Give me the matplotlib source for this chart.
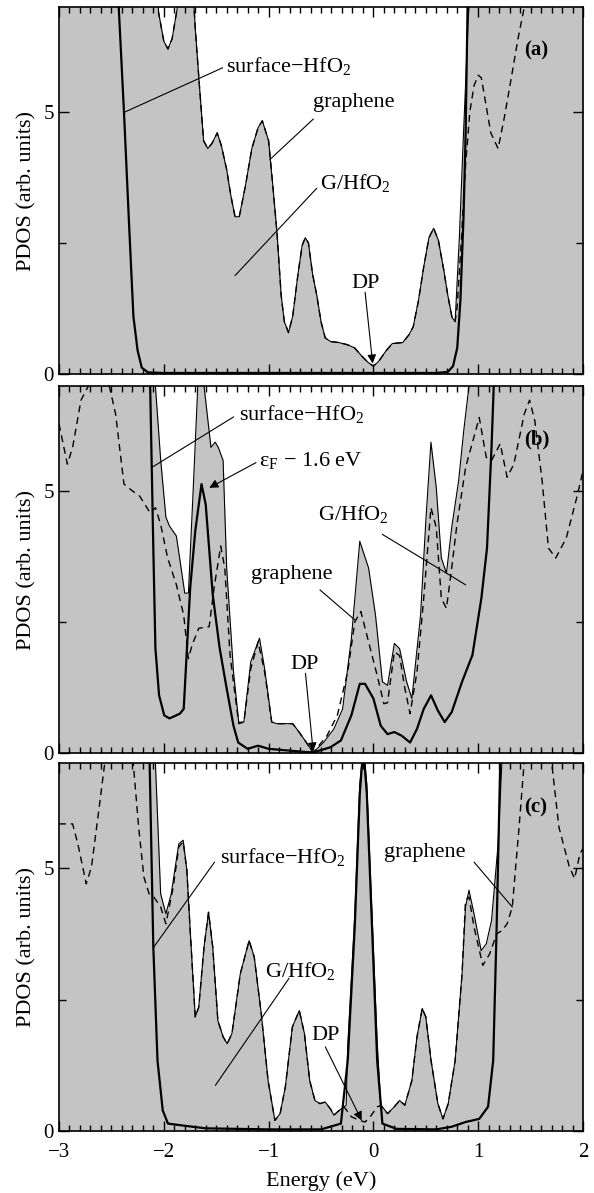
import numpy as np
import matplotlib.pyplot as plt
from matplotlib.ticker import MultipleLocator, FixedLocator

plt.rcParams['font.family'] = ['Liberation Serif', 'DejaVu Serif']
plt.rcParams['mathtext.fontset'] = 'custom'
plt.rcParams['mathtext.rm'] = 'Liberation Serif'
plt.rcParams['mathtext.it'] = 'Liberation Serif:italic'

# ---- panel (a) ----
a_total_e = [-3.0, -2.08, -2.05, -2.0, -1.96, -1.92, -1.87, -1.84, -1.74, -1.70, -1.66, -1.62, -1.58, -1.54,
             -1.49, -1.45, -1.40, -1.36, -1.32, -1.28, -1.22, -1.16, -1.10, -1.06, -1.00, -0.96, -0.92, -0.88,
             -0.85, -0.81, -0.77, -0.72, -0.68, -0.65, -0.62, -0.58, -0.54, -0.50, -0.46, -0.41, -0.33, -0.25,
             -0.18, -0.11, -0.05, 0.0, 0.05, 0.12, 0.18, 0.28, 0.34, 0.38, 0.43, 0.48, 0.53, 0.575, 0.62, 0.67,
             0.71, 0.75, 0.78, 0.82, 0.86, 0.90, 0.93, 2.0]
a_total = [8, 8, 6.9, 6.35, 6.2, 6.4, 7.0, 8, 8, 6.6, 5.5, 4.45, 4.3, 4.4,
           4.6, 4.35, 3.9, 3.4, 3.0, 3.0, 3.6, 4.3, 4.7, 4.83, 4.45, 3.6, 2.7, 1.5,
           1.0, 0.79, 1.1, 1.9, 2.45, 2.6, 2.5, 1.9, 1.5, 1.0, 0.69, 0.62, 0.6, 0.56,
           0.5, 0.34, 0.22, 0.15, 0.24, 0.44, 0.58, 0.6, 0.75, 0.9, 1.4, 2.04, 2.6, 2.78, 2.55, 2.0,
           1.5, 1.08, 1.0, 2.6, 4.6, 6.5, 8, 8]
a_surf_e = [-3.0, -2.44, -2.43, -2.38, -2.33, -2.29, -2.25, -2.21, -2.15, -2.0, 0.6, 0.71, 0.76, 0.80,
            0.83, 0.86, 0.88, 0.90, 0.91, 2.0]
a_surf = [8, 8, 7.0, 5.0, 2.8, 1.1, 0.45, 0.12, 0.03, 0.02, 0.02, 0.04, 0.15, 0.5,
          1.4, 3.0, 4.6, 7.2, 8, 8]
a_gr_e = [-3.0, -2.08, -2.05, -2.0, -1.96, -1.92, -1.87, -1.84, -1.74, -1.70, -1.66, -1.62, -1.58, -1.54,
          -1.49, -1.45, -1.40, -1.36, -1.32, -1.28, -1.22, -1.16, -1.10, -1.06, -1.00, -0.96, -0.92, -0.88,
          -0.85, -0.81, -0.77, -0.72, -0.68, -0.65, -0.62, -0.58, -0.54, -0.50, -0.46, -0.41, -0.33, -0.25,
          -0.18, -0.11, -0.05, 0.0, 0.05, 0.12, 0.18, 0.28, 0.34, 0.38, 0.43, 0.48, 0.53, 0.575, 0.62, 0.67,
          0.71, 0.75, 0.78, 0.80, 0.84, 0.88, 0.92, 0.96, 1.0, 1.03, 1.06, 1.12, 1.19, 1.25, 1.32, 1.38,
          1.44, 1.48, 2.0]
a_gr = [8, 8, 6.9, 6.35, 6.2, 6.4, 7.0, 8, 8, 6.6, 5.5, 4.45, 4.3, 4.4,
        4.6, 4.35, 3.9, 3.4, 3.0, 3.0, 3.6, 4.3, 4.7, 4.83, 4.45, 3.6, 2.7, 1.5,
        1.0, 0.79, 1.1, 1.9, 2.45, 2.6, 2.5, 1.9, 1.5, 1.0, 0.69, 0.62, 0.6, 0.56,
        0.5, 0.34, 0.22, 0.15, 0.24, 0.44, 0.58, 0.6, 0.75, 0.9, 1.4, 2.04, 2.6, 2.78, 2.55, 2.0,
        1.5, 1.08, 1.0, 1.3, 2.6, 4.0, 5.0, 5.5, 5.7, 5.65, 5.3, 4.6, 4.3, 4.9, 5.7, 6.4,
        7.0, 8, 8]

# ---- panel (b) ----
b_total_e = [-3.0, -2.09, -2.08, -2.03, -1.98, -1.946, -1.88, -1.84, -1.80, -1.765, -1.72, -1.68, -1.66,
             -1.63, -1.616, -1.55, -1.51, -1.48, -1.434, -1.40, -1.335, -1.285, -1.236, -1.17, -1.087,
             -1.038, -0.97, -0.92, -0.77, -0.72, -0.674, -0.575, -0.476, -0.377, -0.294, -0.21, -0.13,
             -0.046, 0.02, 0.086, 0.135, 0.20, 0.25, 0.317, 0.367, 0.45, 0.50, 0.549, 0.60, 0.648, 0.697,
             0.747, 0.813, 0.862, 0.912, 0.94, 2.0]
b_total = [8, 8, 7.0, 5.6, 4.5, 4.33, 4.14, 3.6, 3.05, 3.05, 5.0, 6.8, 8,
           8, 7.0, 5.83, 5.93, 5.83, 5.58, 3.53, 1.55, 0.59, 0.59, 1.74, 2.19,
           1.61, 0.59, 0.56, 0.56, 0.43, 0.30, 0.01, 0.2, 0.46, 0.84, 2.19, 4.04,
           3.53, 2.63, 1.36, 1.29, 2.09, 1.99, 1.36, 1.04, 2.63, 4.42, 5.93, 5.06, 3.72, 3.43,
           4.3, 5.19, 6.15, 7.0, 8, 8]
b_surf_e = [-3.0, -2.14, -2.13, -2.10, -2.08, -2.045, -1.996, -1.946, -1.847, -1.81, -1.748, -1.70, -1.64,
            -1.60, -1.533, -1.467, -1.40, -1.335, -1.29, -1.20, -1.10, -1.00, -0.77, -0.575, -0.41, -0.31,
            -0.21, -0.13, -0.08, 0.0, 0.07, 0.135, 0.20, 0.27, 0.35, 0.416, 0.48, 0.55, 0.615, 0.68, 0.747,
            0.846, 0.945, 1.03, 1.084, 1.127, 1.15, 1.16, 2.0]
b_surf = [8, 8, 7.0, 3.91, 2.0, 1.1, 0.72, 0.66, 0.75, 0.84, 3.15, 4.23, 5.13,
          4.74, 3.02, 2.0, 1.23, 0.52, 0.2, 0.08, 0.14, 0.08, 0.04, 0.01, 0.11, 0.24,
          0.72, 1.32, 1.32, 1.04, 0.52, 0.36, 0.40, 0.33, 0.20, 0.46, 0.84, 1.10, 0.81, 0.59, 0.78,
          1.36, 1.87, 2.95, 3.91, 5.83, 7.1, 8, 8]
b_gr_e = [-3.0, -2.92, -2.87, -2.79, -2.72, -2.62, -2.52, -2.46, -2.38, -2.30, -2.23, -2.13, -2.08, -2.03,
          -1.963, -1.88, -1.81, -1.765, -1.73, -1.666, -1.567, -1.52, -1.457, -1.418, -1.368, -1.285,
          -1.236, -1.17, -1.10, -1.038, -0.97, -0.92, -0.77, -0.72, -0.674, -0.575, -0.443, -0.344, -0.245,
          -0.178, -0.12, -0.046, 0.036, 0.10, 0.135, 0.20, 0.25, 0.30, 0.35, 0.416, 0.48, 0.549, 0.60,
          0.648, 0.697, 0.747, 0.797, 0.88, 1.01, 1.077, 1.127, 1.21, 1.276, 1.34, 1.44, 1.49, 1.54, 1.61,
          1.67, 1.74, 1.84, 1.94, 2.0]
b_gr = [6.28, 5.51, 5.83, 6.73, 7.0, 7.6, 7.0, 6.47, 5.13, 5.0, 4.9, 4.58, 4.68, 4.36,
        3.72, 3.21, 2.63, 1.8, 2.06, 2.38, 2.41, 3.15, 3.95, 3.53, 1.87, 0.56,
        0.59, 1.61, 2.12, 1.55, 0.59, 0.56, 0.56, 0.43, 0.30, 0.01, 0.33, 0.72, 1.55,
        2.5, 2.7, 2.12, 1.48, 0.94, 0.96, 1.93, 1.86, 1.23, 0.75, 1.55, 2.95, 4.68, 4.3,
        2.95, 2.76, 3.53, 4.36, 5.45, 6.4, 5.64, 5.58, 5.9, 5.26, 5.51, 6.47, 6.73, 6.34, 5.19,
        3.91, 3.72, 4.1, 4.87, 5.38]

# ---- panel (c) ----
c_total_e = [-3.0, -2.09, -2.08, -2.03, -1.98, -1.93, -1.857, -1.815, -1.78, -1.75, -1.70, -1.666, -1.616,
             -1.573, -1.533, -1.484, -1.434, -1.395, -1.35, -1.27, -1.186, -1.137, -1.07, -1.005, -0.94,
             -0.89, -0.84, -0.773, -0.707, -0.658, -0.608, -0.558, -0.51, -0.46, -0.41, -0.377, -0.327,
             -0.26, -0.245, -0.178, -0.13, -0.096, -0.063, -0.013, 0.036, 0.07, 0.135, 0.2, 0.25, 0.3,
             0.367, 0.416, 0.466, 0.5, 0.55, 0.615, 0.664, 0.714, 0.78, 0.846, 0.879, 0.912, 0.96, 1.028,
             1.077, 1.127, 1.19, 1.226, 1.24, 2.0]
c_total = [8, 8, 7.0, 4.51, 4.13, 4.5, 5.46, 5.53, 4.96, 3.88, 2.17, 2.36, 3.5,
           4.16, 3.5, 2.1, 1.79, 1.66, 1.85, 2.99, 3.62, 3.31, 2.23, 0.96, 0.2,
           0.33, 0.84, 1.98, 2.29, 1.85, 0.96, 0.58, 0.52, 0.55, 0.42, 0.3, 0.39,
           0.49, 1.6, 4.1, 6.6, 7.3, 6.6, 4.1, 1.7, 0.5, 0.33, 0.46, 0.58, 0.49,
           0.96, 1.79, 2.33, 2.17, 1.34, 0.52, 0.23, 0.52, 1.34, 2.99, 4.26, 4.58, 4.13, 3.43,
           3.56, 4.0, 5.46, 7.0, 8, 8]
c_surf_e = [-3.0, -2.14, -2.135, -2.10, -2.06, -2.01, -1.96, -1.765, -1.6, -1.0, -0.5, -0.31, -0.245,
            -0.178, -0.13, -0.096, -0.063, -0.013, 0.036, 0.086, 0.22, 0.6, 0.747, 0.879, 1.01, 1.094,
            1.143, 1.176, 1.21, 1.22, 2.0]
c_surf = [8, 8, 7.0, 3.5, 1.34, 0.39, 0.14, 0.09, 0.05, 0.03, 0.03, 0.14, 1.34,
          3.88, 6.41, 7.3, 6.41, 3.88, 1.34, 0.14, 0.04, 0.03, 0.08, 0.17, 0.23, 0.46,
          1.34, 3.88, 7.0, 8, 8]
c_gr_e = [-3.0, -2.87, -2.82, -2.74, -2.69, -2.62, -2.56, -2.45, -2.30, -2.24, -2.19, -2.14, -2.095, -2.03,
          -1.98, -1.91, -1.857, -1.815, -1.78, -1.75, -1.70, -1.666, -1.616, -1.573, -1.533, -1.484,
          -1.434, -1.395, -1.35, -1.27, -1.186, -1.137, -1.07, -1.005, -0.94, -0.89, -0.84, -0.773, -0.707,
          -0.658, -0.608, -0.558, -0.51, -0.46, -0.41, -0.377, -0.327, -0.28, -0.21, -0.13, -0.08, -0.03,
          0.036, 0.07, 0.135, 0.2, 0.25, 0.3, 0.367, 0.416, 0.466, 0.5, 0.55, 0.615, 0.664, 0.714, 0.78,
          0.846, 0.879, 0.912, 0.96, 1.044, 1.11, 1.176, 1.226, 1.276, 1.325, 1.39, 1.44, 1.55, 1.69,
          1.77, 1.87, 1.92, 1.97, 2.0]
c_gr = [5.84, 5.84, 5.46, 4.7, 5.02, 6.1, 7.05, 7.8, 7.2, 5.78, 4.83, 4.51, 4.45, 4.26,
        3.94, 4.64, 5.4, 5.5, 4.96, 3.88, 2.17, 2.36, 3.5, 4.16, 3.5, 2.1,
        1.79, 1.66, 1.85, 2.99, 3.62, 3.31, 2.23, 0.96, 0.2, 0.33, 0.84, 1.98, 2.29,
        1.85, 0.96, 0.58, 0.52, 0.55, 0.42, 0.3, 0.39, 0.46, 0.27, 0.2, 0.17, 0.27,
        0.46, 0.48, 0.33, 0.46, 0.58, 0.49, 0.96, 1.79, 2.33, 2.17, 1.34, 0.52, 0.23, 0.52, 1.34,
        2.99, 4.39, 4.45, 3.88, 3.15, 3.37, 3.75, 3.81, 3.94, 4.26, 5.78, 7.05, 7.8, 7.2,
        5.78, 5.02, 4.8, 5.27, 5.37]

x_ticks = [-3, -2, -1, 0, 1, 2]
y_ticks = [0, 5]

GRAY = '#c4c4c4'
FS = 16


def draw_panel(ax, total_e, total, surf_e, surf, gr_e, gr):
    ax.fill_between(total_e, 0, total, color=GRAY, lw=0, zorder=1)
    ax.plot(total_e, total, color='k', lw=0.8, zorder=3)
    ax.plot(gr_e, gr, color='k', lw=1.0, dashes=(5, 3.5), zorder=3)
    ax.plot(surf_e, surf, color='k', lw=1.6, zorder=4)
    ax.set_xlim(-3, 2)
    ax.set_ylim(0, 7)
    ax.xaxis.set_major_locator(FixedLocator(x_ticks))
    ax.xaxis.set_minor_locator(MultipleLocator(0.1))
    ax.yaxis.set_major_locator(FixedLocator(y_ticks))
    ax.yaxis.set_minor_locator(FixedLocator([2.5]))
    ax.tick_params(which='both', direction='in', top=True, right=True, width=1.0, labelsize=15)
    ax.tick_params(which='major', length=7)
    ax.tick_params(which='minor', length=4)
    ax.tick_params(axis='y', which='minor', length=5)
    ax.tick_params(axis='x', pad=9)
    for s in ax.spines.values():
        s.set_linewidth(1.2)
    ax.set_ylabel('PDOS (arb. units)', fontsize=FS)
    ax.yaxis.set_label_coords(-0.042, 0.5)


def label(ax, text, xy, line=None, arrow=False):
    # text with a pointer line (or arrow) to a curve
    ax.text(xy[0], xy[1], text, fontsize=FS, ha='left', va='center', zorder=5)
    if line is not None:
        if arrow:
            ax.annotate('', xy=line[1], xytext=line[0],
                        arrowprops=dict(arrowstyle='-|>', color='k', lw=0.8, mutation_scale=13,
                                        shrinkA=0, shrinkB=0), zorder=5)
        else:
            ax.plot([line[0][0], line[1][0]], [line[0][1], line[1][1]], color='k', lw=0.8, zorder=5)


fig = plt.figure(figsize=(5.94, 11.93), dpi=100)
left, width = 0.0993, 0.8822
ax_a = fig.add_axes([left, 0.6865, width, 0.3076])
ax_b = fig.add_axes([left, 0.3688, width, 0.3076])
ax_c = fig.add_axes([left, 0.0520, width, 0.3085])

draw_panel(ax_a, a_total_e, a_total, a_surf_e, a_surf, a_gr_e, a_gr)
draw_panel(ax_b, b_total_e, b_total, b_surf_e, b_surf, b_gr_e, b_gr)
draw_panel(ax_c, c_total_e, c_total, c_surf_e, c_surf, c_gr_e, c_gr)

ax_a.tick_params(axis='x', labelbottom=False)
ax_b.tick_params(axis='x', labelbottom=False)
ax_c.set_xlabel('Energy (eV)', fontsize=FS, labelpad=6)

hfo2 = 'surface\u2212HfO$_2$'
g_hfo2 = 'G/HfO$_2$'

# panel (a) labels
label(ax_a, hfo2, (-1.41, 5.88), ((-1.44, 5.84), (-2.38, 4.99)))
label(ax_a, 'graphene', (-0.575, 5.18), ((-0.575, 4.86), (-0.988, 4.09)))
label(ax_a, g_hfo2, (-0.51, 3.64), ((-0.542, 3.54), (-1.319, 1.88)))
label(ax_a, 'DP', (-0.21, 1.72), ((-0.079, 1.56), (-0.007, 0.2)), arrow=True)
ax_a.text(1.44, 6.17, '(a)', fontsize=15, fontweight='bold', ha='left', va='center')

# panel (b) labels
label(ax_b, hfo2, (-1.286, 6.47), ((-1.335, 6.41), (-2.112, 5.45)))
label(ax_b, '\u03b5$_\\mathrm{F}$ \u2212 1.6 eV', (-1.087, 5.58), ((-1.12, 5.54), (-1.566, 5.06)), arrow=True)
label(ax_b, g_hfo2, (-0.525, 4.55), ((0.086, 4.17), (0.879, 3.21)))
label(ax_b, 'graphene', (-1.17, 3.40), ((-0.509, 3.11), (-0.178, 2.54)))
label(ax_b, 'DP', (-0.79, 1.68), ((-0.648, 1.52), (-0.575, 0.03)), arrow=True)
ax_b.text(1.44, 5.99, '(b)', fontsize=15, fontweight='bold', ha='left', va='center')

# panel (c) labels
label(ax_c, hfo2, (-1.467, 5.21), ((-1.517, 5.11), (-2.095, 3.5)))
label(ax_c, 'graphene', (0.102, 5.30), ((0.962, 5.11), (1.325, 4.26)))
label(ax_c, g_hfo2, (-1.038, 3.05), ((-0.806, 2.90), (-1.507, 0.87)))
label(ax_c, 'DP', (-0.59, 1.82), ((-0.459, 1.60), (-0.112, 0.2)), arrow=True)
ax_c.text(1.44, 6.16, '(c)', fontsize=15, fontweight='bold', ha='left', va='center')

fig.savefig('out.png', dpi=100)
